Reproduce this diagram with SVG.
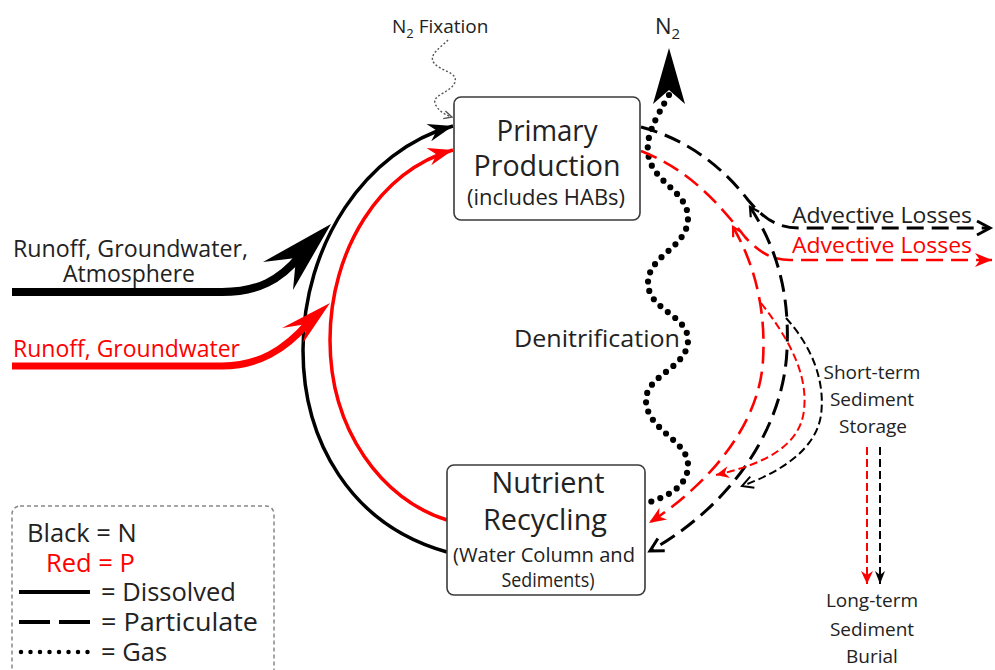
<svg xmlns="http://www.w3.org/2000/svg" width="995" height="670" viewBox="0 0 995 670">
<defs>
<style>
text{font-family:"Open Sans","Liberation Sans",sans-serif;fill:#222}
.red{fill:#ff0000}
.box{fill:#fff;stroke:#3a3a3a;stroke-width:1.6}
.sol{fill:none;stroke:#000;stroke-width:3.5}
.solr{fill:none;stroke:#ff0000;stroke-width:3.5}
.dl{fill:none;stroke:#000;stroke-width:3;stroke-dasharray:17 8}
.dlr{fill:none;stroke:#ff0000;stroke-width:2.6;stroke-dasharray:17 8}
.ds{fill:none;stroke:#000;stroke-width:2;stroke-dasharray:8 4}
.dsr{fill:none;stroke:#ff0000;stroke-width:2;stroke-dasharray:8 4}
.gas{fill:none;stroke:#000;stroke-width:6.2;stroke-linecap:round;stroke-dasharray:0 9.5}
.big{font-size:30px}
.sub{font-size:21px}
.leg{font-size:25.5px}
</style>
<marker id="stB" markerUnits="userSpaceOnUse" markerWidth="30" markerHeight="30" refX="0" refY="0" orient="auto" overflow="visible"><path d="M0,0 L-25,-9 L-17,0 L-25,9 Z" fill="#000"/></marker>
<marker id="stR" markerUnits="userSpaceOnUse" markerWidth="30" markerHeight="30" refX="0" refY="0" orient="auto" overflow="visible"><path d="M0,0 L-25,-9 L-17,0 L-25,9 Z" fill="#ff0000"/></marker>
<marker id="chB" markerUnits="userSpaceOnUse" markerWidth="20" markerHeight="20" refX="0" refY="0" orient="auto" overflow="visible"><path d="M-13,-7 L0,0 L-13,7" fill="none" stroke="#000" stroke-width="3"/></marker>
<marker id="chBs" markerUnits="userSpaceOnUse" markerWidth="20" markerHeight="20" refX="0" refY="0" orient="auto-start-reverse" overflow="visible"><path d="M-9,-5 L0,0 L-9,5" fill="none" stroke="#000" stroke-width="2.2"/></marker>
<marker id="chRs" markerUnits="userSpaceOnUse" markerWidth="20" markerHeight="20" refX="0" refY="0" orient="auto-start-reverse" overflow="visible"><path d="M-9,-5 L0,0 L-9,5" fill="none" stroke="#ff0000" stroke-width="2.2"/></marker>
<marker id="chBt" markerUnits="userSpaceOnUse" markerWidth="20" markerHeight="20" refX="0" refY="0" orient="auto" overflow="visible"><path d="M-11,-6 L0,0 L-11,6" fill="none" stroke="#000" stroke-width="2"/></marker>
<marker id="trR" markerUnits="userSpaceOnUse" markerWidth="20" markerHeight="20" refX="0" refY="0" orient="auto" overflow="visible"><path d="M0,0 L-17,-7 L-12,0 L-17,7 Z" fill="#ff0000"/></marker>
<marker id="trRs" markerUnits="userSpaceOnUse" markerWidth="20" markerHeight="20" refX="0" refY="0" orient="auto" overflow="visible"><path d="M0,0 L-13,-6 L-9,0 L-13,6 Z" fill="#ff0000"/></marker>
<marker id="trBs" markerUnits="userSpaceOnUse" markerWidth="20" markerHeight="20" refX="0" refY="0" orient="auto" overflow="visible"><path d="M0,0 L-13,-5 L-9,0 L-13,5 Z" fill="#000"/></marker>
<marker id="fix" markerUnits="userSpaceOnUse" markerWidth="20" markerHeight="20" refX="0" refY="0" orient="auto" overflow="visible"><path d="M-8,-4 L0,0 L-8,4" fill="none" stroke="#555" stroke-width="1.4"/></marker>
</defs>
<rect width="995" height="670" fill="#fff"/>

<g id="connectors">
  <path class="sol" d="M447,552 C 350,525 303,440 303,350 C 303,245 365,150 453,126" marker-end="url(#stB)"/>
  <path class="solr" d="M447,520 C 382,500 330,430 330,340 C 330,250 380,170 453,150" marker-end="url(#stR)"/>
  <path d="M12,292 L222,292 C 258,292 280,280 300,256" fill="none" stroke="#000" stroke-width="8"/>
  <polygon points="331,224 263,262 296,258 293,290" fill="#000"/>
  <path d="M12,366 L222,366 C 258,366 285,350 309,322" fill="none" stroke="#ff0000" stroke-width="7"/>
  <polygon points="330,303 282,328 307,324 303,343" fill="#ff0000"/>
  <path d="M448,40 C 440,48 428,55 434,63 C 440,71 458,72 455,82 C 452,92 432,95 435,103 C 437,110 445,115 452,117" fill="none" stroke="#555" stroke-width="1.4" stroke-dasharray="2 2" marker-end="url(#fix)"/>
  <path class="gas" d="M669,95 C 656,118 646,135 648,152 C 650,182 688,190 688,218 C 688,248 648,255 648,283 C 648,310 688,315 688,340 C 688,368 646,375 646,400 C 646,430 688,440 688,465 C 688,488 665,497 647,503"/>
  <polygon points="669,48 685,104 669,90 653,104" fill="#000"/>
  <path class="dl" d="M641,127 C 690,140 725,170 748,200 C 765,220 778,228 800,228 L 990,228" marker-end="url(#chB)"/>
  <path class="dlr" d="M641,151 C 690,170 720,205 745,237 C 760,253 772,260 790,260 L 992,260" marker-end="url(#trR)"/>
  <path class="dl" d="M750,207 C 775,245 790,290 787,350 C 784,420 740,500 650,551" marker-start="url(#chBs)" marker-end="url(#chB)"/>
  <path class="dlr" d="M733,227 C 755,265 766,310 763,360 C 760,420 715,480 649,523" marker-start="url(#chRs)" marker-end="url(#trR)"/>
  <path class="ds" d="M786,318 C 815,350 825,385 821,415 C 816,450 780,472 742,486" marker-end="url(#chBt)"/>
  <path class="dsr" d="M761,303 C 790,340 808,375 804,410 C 800,448 760,465 716,475" marker-end="url(#trRs)"/>
  <path class="dsr" d="M867,447 L867,584" marker-end="url(#trRs)"/>
  <path class="ds" d="M880,447 L880,584" marker-end="url(#trBs)"/>
</g>

<g id="primary">
  <rect class="box" x="454" y="97" width="186" height="123" rx="7"/>
  <text class="big" x="547" y="141" text-anchor="middle" textLength="101" lengthAdjust="spacingAndGlyphs">Primary</text>
  <text class="big" x="547" y="176" text-anchor="middle" textLength="147" lengthAdjust="spacingAndGlyphs">Production</text>
  <text class="sub" x="546" y="205" text-anchor="middle" textLength="158" lengthAdjust="spacingAndGlyphs">(includes HABs)</text>
</g>

<g id="recycling">
  <rect class="box" x="447" y="465" width="198" height="130" rx="7"/>
  <text class="big" x="548" y="493" text-anchor="middle" textLength="113" lengthAdjust="spacingAndGlyphs">Nutrient</text>
  <text class="big" x="545" y="530" text-anchor="middle" textLength="124" lengthAdjust="spacingAndGlyphs">Recycling</text>
  <text style="font-size:20px" x="544" y="562" text-anchor="middle" textLength="182" lengthAdjust="spacingAndGlyphs">(Water Column and</text>
  <text style="font-size:20px" x="548" y="587" text-anchor="middle" textLength="93" lengthAdjust="spacingAndGlyphs">Sediments)</text>
</g>

<g id="inputs">
  <text style="font-size:23px" x="13" y="257" textLength="235" lengthAdjust="spacingAndGlyphs">Runoff, Groundwater,</text>
  <text style="font-size:23px" x="63" y="282" textLength="132" lengthAdjust="spacingAndGlyphs">Atmosphere</text>
  <text class="red" style="font-size:23px" x="13" y="357" textLength="227" lengthAdjust="spacingAndGlyphs">Runoff, Groundwater</text>
</g>

<g id="n2-fixation">
  <text style="font-size:19px" x="392" y="33">N<tspan style="font-size:13px" dy="5">2</tspan><tspan dy="-5"> Fixation</tspan></text>
</g>

<g id="n2">
  <text style="font-size:22px" x="655" y="34">N<tspan style="font-size:15px" dy="5">2</tspan></text>
</g>

<g id="denitrification">
  <text style="font-size:24px" x="514" y="347" textLength="166" lengthAdjust="spacingAndGlyphs">Denitrification</text>
</g>

<g id="advective">
  <text style="font-size:21px" x="792" y="223" textLength="180" lengthAdjust="spacingAndGlyphs">Advective Losses</text>
  <text class="red" style="font-size:21px" x="792" y="253" textLength="180" lengthAdjust="spacingAndGlyphs">Advective Losses</text>
</g>

<g id="short-term">
  <text style="font-size:19px" x="872" y="379" text-anchor="middle">Short-term</text>
  <text style="font-size:19px" x="872" y="406" text-anchor="middle">Sediment</text>
  <text style="font-size:19px" x="873" y="433" text-anchor="middle">Storage</text>
</g>

<g id="long-term">
  <text style="font-size:19px" x="872" y="607" text-anchor="middle">Long-term</text>
  <text style="font-size:19px" x="872" y="636" text-anchor="middle">Sediment</text>
  <text style="font-size:19px" x="872" y="663" text-anchor="middle">Burial</text>
</g>

<g id="legend">
  <rect x="12" y="506" width="262" height="175" rx="8" fill="none" stroke="#888" stroke-width="1.5" stroke-dasharray="4 3"/>
  <text class="leg" x="27" y="542">Black = N</text>
  <text class="leg red" x="46" y="572">Red = P</text>
  <path d="M19,592 L90,592" stroke="#000" stroke-width="4"/>
  <text class="leg" x="101" y="601">= Dissolved</text>
  <path d="M19,622 L50,622 M59,622 L90,622" stroke="#000" stroke-width="4"/>
  <text class="leg" x="101" y="631" textLength="157" lengthAdjust="spacingAndGlyphs">= Particulate</text>
  <path d="M21,652 L88,652" stroke="#000" stroke-width="4.5" stroke-linecap="round" stroke-dasharray="0 9.5"/>
  <text class="leg" x="101" y="661">= Gas</text>
</g>
</svg>
